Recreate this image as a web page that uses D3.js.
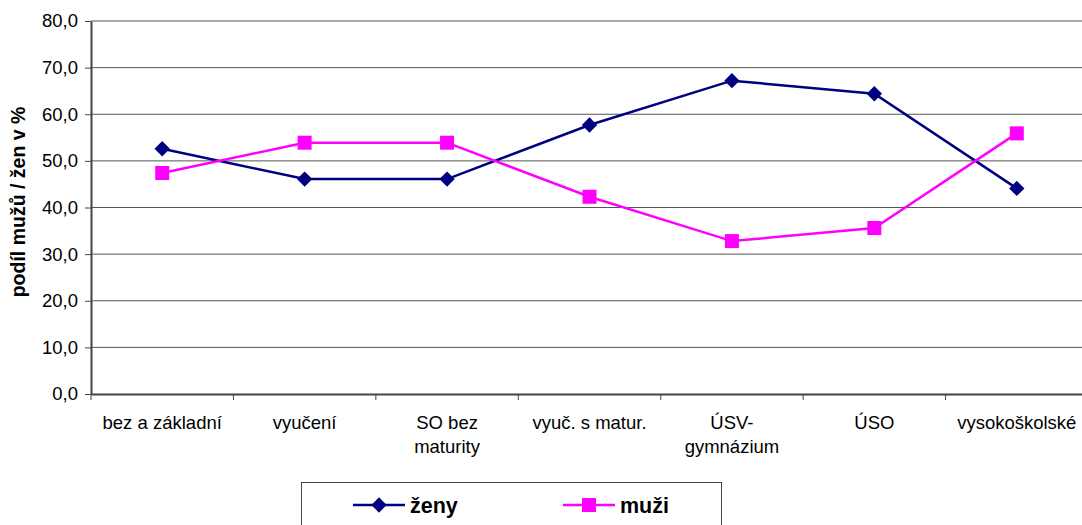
<!DOCTYPE html>
<html>
<head>
<meta charset="utf-8">
<script src="https://cdn.jsdelivr.net/npm/d3@7"></script>
<style>
  body { margin: 0; background: #fff; overflow: hidden; }
  text { font-family: "Liberation Sans", Arial, sans-serif; }
</style>
</head>
<body>
<div id="chart"></div>
<script>
var categories = [["bez a základní"], ["vyučení"], ["SO bez", "maturity"], ["vyuč. s matur."], ["ÚSV-", "gymnázium"], ["ÚSO"], ["vysokoškolské"]];
var zeny = [52.6, 46.1, 46.1, 57.7, 67.2, 64.4, 44.1];
var muzi = [47.4, 53.9, 53.9, 42.3, 32.8, 35.6, 55.9];
var yTicks = [0, 10, 20, 30, 40, 50, 60, 70, 80];

var W = 1082, H = 525;
var plot = {left: 91, right: 1088, top: 21, bottom: 394};

var svg = d3.select('#chart').append('svg')
    .attr('width', W)
    .attr('height', H);

var x = d3.scaleBand()
    .domain(d3.range(categories.length))
    .range([plot.left, plot.right]);

var y = d3.scaleLinear()
    .domain([0, 80])
    .range([plot.bottom, plot.top]);

var fmt = function(v) { return d3.format('.1f')(v).replace('.', ','); };
var cx = function(i) { return x(i) + x.bandwidth() / 2; };

// gridlines
svg.append('g')
    .selectAll('line')
    .data(yTicks.filter(function(d) { return d > 0; }))
    .enter().append('line')
    .attr('x1', plot.left).attr('x2', plot.right)
    .attr('y1', function(d) { return y(d); })
    .attr('y2', function(d) { return y(d); })
    .attr('stroke', '#555')
    .attr('stroke-width', 1);

// y axis
var yAxis = d3.axisLeft(y)
    .tickValues(yTicks)
    .tickFormat(fmt)
    .tickSize(6)
    .tickSizeOuter(0);

var gy = svg.append('g')
    .attr('transform', 'translate(' + plot.left + ',0)')
    .call(yAxis);
gy.select('.domain').attr('stroke', '#444').attr('stroke-width', 2);
gy.selectAll('.tick line').attr('stroke', '#444');
gy.selectAll('.tick text')
    .attr('font-size', '18.5px')
    .attr('fill', '#000')
    .attr('x', -13)
    .style('font-family', '"Liberation Sans", Arial, sans-serif');

// x axis
var xAxis = d3.axisBottom(x)
    .tickSize(0)
    .tickFormat('');
var gx = svg.append('g')
    .attr('transform', 'translate(0,' + plot.bottom + ')')
    .call(xAxis);
gx.select('.domain').attr('stroke', '#444').attr('stroke-width', 2);

// band boundary ticks
svg.append('g')
    .selectAll('line')
    .data(d3.range(categories.length + 1))
    .enter().append('line')
    .attr('x1', function(i) { return plot.left + i * x.step(); })
    .attr('x2', function(i) { return plot.left + i * x.step(); })
    .attr('y1', plot.bottom)
    .attr('y2', plot.bottom + 6)
    .attr('stroke', '#444');

// category labels
svg.append('g')
    .selectAll('text')
    .data(categories)
    .enter().append('text')
    .attr('x', function(d, i) { return cx(i); })
    .attr('y', 429)
    .attr('text-anchor', 'middle')
    .attr('font-size', '18.5px')
    .each(function(d) {
        var t = d3.select(this);
        d.forEach(function(line, j) {
            t.append('tspan')
                .attr('x', t.attr('x'))
                .attr('dy', j === 0 ? 0 : 24)
                .text(line);
        });
    });

// y title
svg.append('text')
    .attr('transform', 'translate(25,202) rotate(-90)')
    .attr('text-anchor', 'middle')
    .attr('font-size', '19.5px')
    .attr('font-weight', 'bold')
    .text('podíl mužů / žen v %');

var line = d3.line()
    .x(function(d, i) { return cx(i); })
    .y(function(d) { return y(d); });

var diamond = d3.symbol().type(d3.symbolDiamond2).size(150);

// zeny
svg.append('path')
    .datum(zeny)
    .attr('d', line)
    .attr('fill', 'none')
    .attr('stroke', '#000080')
    .attr('stroke-width', 2.5);
svg.append('g')
    .selectAll('path')
    .data(zeny)
    .enter().append('path')
    .attr('d', diamond)
    .attr('transform', function(d, i) { return 'translate(' + cx(i) + ',' + y(d) + ')'; })
    .attr('fill', '#000080');

// muzi
svg.append('path')
    .datum(muzi)
    .attr('d', line)
    .attr('fill', 'none')
    .attr('stroke', '#FF00FF')
    .attr('stroke-width', 2.5);
svg.append('g')
    .selectAll('rect')
    .data(muzi)
    .enter().append('rect')
    .attr('x', function(d, i) { return cx(i) - 7; })
    .attr('y', function(d) { return y(d) - 7; })
    .attr('width', 14)
    .attr('height', 14)
    .attr('fill', '#FF00FF');

// legend
var lg = svg.append('g');
lg.append('rect')
    .attr('x', 301.5).attr('y', 482.5)
    .attr('width', 420).attr('height', 50)
    .attr('fill', '#fff')
    .attr('stroke', '#444')
    .attr('stroke-width', 1);

lg.append('line')
    .attr('x1', 353).attr('x2', 405).attr('y1', 505).attr('y2', 505)
    .attr('stroke', '#000080').attr('stroke-width', 2.5);
lg.append('path')
    .attr('d', diamond)
    .attr('transform', 'translate(379,505)')
    .attr('fill', '#000080');
lg.append('text')
    .attr('x', 410).attr('y', 513)
    .attr('font-size', '21.5px').attr('font-weight', 'bold')
    .text('ženy');

lg.append('line')
    .attr('x1', 563).attr('x2', 615).attr('y1', 505).attr('y2', 505)
    .attr('stroke', '#FF00FF').attr('stroke-width', 2.5);
lg.append('rect')
    .attr('x', 582).attr('y', 498).attr('width', 14).attr('height', 14)
    .attr('fill', '#FF00FF');
lg.append('text')
    .attr('x', 620).attr('y', 513)
    .attr('font-size', '21.5px').attr('font-weight', 'bold')
    .text('muži');
</script>
</body>
</html>
